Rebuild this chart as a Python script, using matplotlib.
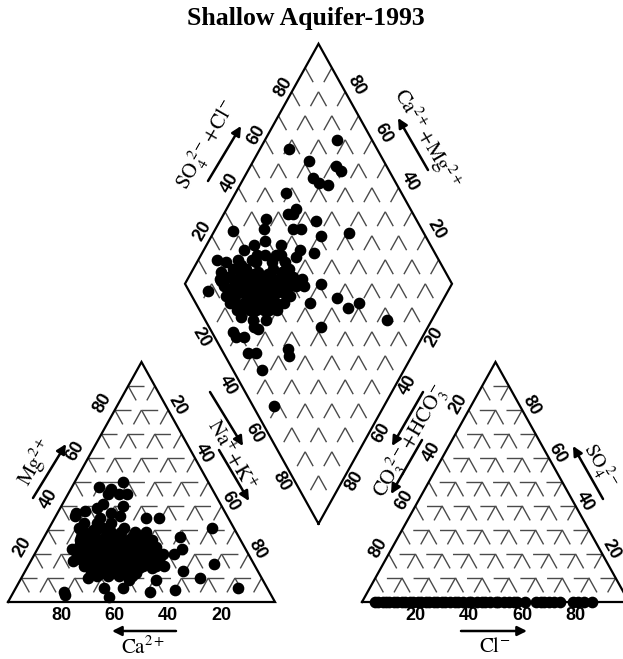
import matplotlib
matplotlib.use('Agg')
import matplotlib.pyplot as plt
import numpy as np

plt.rcParams['lines.scale_dashes'] = False
plt.rcParams['mathtext.fontset'] = 'stix'

# ---------------- data (percent) ----------------
title = 'Shallow Aquifer-1993'
tick_values = [20, 40, 60, 80]

# cation triangle: Ca2+ and Mg2+ (Na+ + K+ = 100 - Ca - Mg)
cat_ca = [32, 33, 36, 42, 40, 44, 37, 57, 55, 48, 43, 40, 31, 26, 8, 53, 49, 22, 24, 28,
          67, 15, 28, 23, 40, 11, 45, 35, 77, 61, 54, 61, 77, 56, 38,
          57, 53, 47, 43, 38, 34,
          60, 56, 52, 47, 42, 38, 33,
          62, 58, 55, 51, 47, 42, 37, 33,
          62, 58, 54, 50, 46, 41, 37, 32,
          62, 58, 54, 50, 45, 40, 35,
          62, 58, 54, 49, 44, 39,
          61, 57, 53, 48,
          65, 34, 50, 65,
          59, 55, 50, 45, 40, 36,
          61, 57, 53, 49, 44, 40, 35,
          64, 60, 56, 52, 48, 43, 39, 34,
          64, 60, 56, 52, 48, 43, 38,
          64, 60, 56, 51, 47, 42, 37,
          63, 59, 55, 51, 46,
          50, 45, 58, 41, 47, 52]
cat_mg = [50, 45, 45, 48, 45, 41, 40, 36, 33, 35, 37, 36, 35, 35, 31, 30, 31, 27, 22, 20,
          17, 16, 13, 10, 9, 6, 4, 5, 3, 6, 6, 2, 4, 37, 47,
          29, 29, 29, 29, 29, 29,
          26, 26, 26, 26, 26, 26, 26,
          23, 23, 23, 23, 23, 23, 23, 23,
          20, 20, 20, 20, 20, 20, 20, 20,
          17, 17, 17, 17, 17, 17, 17,
          14, 14, 14, 14, 14, 14,
          11, 11, 11, 11,
          22, 15, 9, 10,
          27, 27, 27, 27, 27, 27,
          24, 24, 24, 24, 24, 24, 24,
          21, 21, 21, 21, 21, 21, 21, 21,
          18, 18, 18, 18, 18, 18, 18,
          15, 15, 15, 15, 15, 15, 15,
          12, 12, 12, 12, 12,
          33, 33, 31, 31, 39, 38]

# anion triangle: Cl- and SO4 2- (CO3 2- + HCO3- = 100 - Cl - SO4)
an_cl = [5, 6, 8, 9, 10, 12, 13, 15, 16, 18, 19, 21, 22, 24, 25, 27, 28, 30, 31, 33, 35,
         36, 38, 40, 41, 43, 45, 46, 48, 50, 51, 53, 55, 57, 58, 61, 65, 67, 68, 70, 72,
         74, 79, 81, 83, 86]
an_so4 = [0] * len(an_cl)

# diamond: Ca2+ + Mg2+ and SO4 2- + Cl-
dm_cm = [73, 89, 79, 68, 65, 74, 71, 67, 81, 83, 82, 76, 74, 74, 64, 93, 71, 68, 59, 49,
         79, 85, 79, 72, 72, 64, 58, 64, 93, 85, 90, 49, 40, 34, 31, 17, 40, 72, 70, 67,
         65, 63, 62, 59, 48, 46, 53, 41, 49, 55, 57,
         89, 83, 78, 72, 67,
         89, 85, 80, 75, 70, 64,
         88, 85, 80, 76, 71, 66, 61,
         85, 81, 76, 72, 67, 62, 58,
         82, 78, 73, 69, 64, 58,
         79, 74, 69, 65, 59,
         75, 70, 65, 60,
         72, 67, 62,
         86, 81, 76, 71, 66,
         87, 83, 78, 73, 68, 63,
         83, 79, 74, 69, 64, 60,
         80, 76, 71, 66, 61,
         77, 72, 67, 62,
         73, 68, 63,
         80, 76, 70, 82]
dm_sc = [87, 67, 72, 81, 82, 70, 71, 74, 57, 44, 41, 53, 55, 57, 62, 29, 52, 55, 61, 72,
         39, 29, 33, 44, 40, 50, 55, 47, 17, 25, 7, 51, 54, 56, 61, 68, 42, 8, 8, 11,
         17, 18, 9, 12, 25, 24, 11, 8, 43, 44, 45,
         20, 25, 31, 37, 42,
         16, 21, 26, 30, 36, 42,
         14, 18, 22, 27, 31, 36, 42,
         14, 18, 23, 27, 32, 37, 41,
         13, 18, 22, 27, 32, 37,
         13, 18, 23, 28, 33,
         14, 19, 24, 29,
         14, 18, 23,
         17, 23, 28, 33, 39,
         14, 19, 24, 29, 34, 39,
         15, 20, 25, 30, 34, 39,
         15, 20, 25, 30, 35,
         15, 21, 26, 30,
         16, 21, 26,
         30, 36, 42, 34]

# ---------------- figure ----------------
W, H = 623, 659
fig = plt.figure(figsize=(W / 100, H / 100), dpi=100)
ax = fig.add_axes([0, 0, 1, 1])
ax.set_xlim(0, W)
ax.set_ylim(H, 0)
ax.axis('off')

S = 267.0      # triangle side (horizontal extent, px)
TH = 240.0     # triangle height (px)
LX, RX, BY = 8.0, 362.0, 602.0
half_gap = (RX - (LX + S)) / 2
DBX = LX + S + half_gap
DBY = BY - TH * half_gap / (S / 2)


def lt(ca, mg):
    ca = np.asarray(ca, float); mg = np.asarray(mg, float)
    na = 100 - ca - mg
    return LX + S * (na + mg / 2) / 100, BY - TH * mg / 100


def rt(cl, so4):
    cl = np.asarray(cl, float); so4 = np.asarray(so4, float)
    return RX + S * (cl + so4 / 2) / 100, BY - TH * so4 / 100


def dm(cm, sc):
    cm = np.asarray(cm, float); sc = np.asarray(sc, float)
    return DBX + (S / 2) * (sc - cm) / 100, DBY - TH * (cm + sc) / 100


GRID_C = '#4a4a4a'


def draw_grid_line(p0, p1, cell_px):
    cell_pt = cell_px * 0.72
    ax.plot([p0[0], p1[0]], [p0[1], p1[1]], color=GRID_C, lw=1.0,
            linestyle=(0, (cell_pt * 0.6, cell_pt * 0.4)), zorder=1)


cell_h = S / 10
cell_o = np.hypot(S / 20, TH / 10)

for k in range(10, 100, 10):
    # left triangle
    draw_grid_line(lt(100 - k, k), lt(0, k), cell_h)
    draw_grid_line(lt(k, 100 - k), lt(k, 0), cell_o)
    draw_grid_line(lt(0, 100 - k), lt(100 - k, 0), cell_o)
    # right triangle
    draw_grid_line(rt(100 - k, k), rt(0, k), cell_h)
    draw_grid_line(rt(k, 100 - k), rt(k, 0), cell_o)
    draw_grid_line(rt(0, 100 - k), rt(100 - k, 0), cell_o)
    # diamond
    draw_grid_line(dm(k, 100), dm(k, 0), cell_o)
    draw_grid_line(dm(100, k), dm(0, k), cell_o)

# outlines
for pts in ([lt(100, 0), lt(0, 0), lt(0, 100), lt(100, 0)],
            [rt(0, 0), rt(100, 0), rt(0, 100), rt(0, 0)],
            [dm(0, 0), dm(100, 0), dm(100, 100), dm(0, 100), dm(0, 0)]):
    xs = [p[0] for p in pts]; ys = [p[1] for p in pts]
    ax.plot(xs, ys, color='black', lw=1.6, zorder=2, solid_joinstyle='miter')

# data points
MS = 7.4
x, y = lt(cat_ca, cat_mg)
ax.plot(x, y, 'o', ms=MS, color='black', zorder=3)
x, y = rt(an_cl, an_so4)
ax.plot(x, y, 'o', ms=MS, color='black', zorder=3, clip_on=False)
x, y = dm(dm_cm, dm_sc)
ax.plot(x, y, 'o', ms=MS, color='black', zorder=3)

# tick labels
TFONT = dict(family='Liberation Sans', fontweight='bold', fontsize=13, color='black',
             ha='center', va='center')
c60, s60 = 0.87, 0.49
for v in tick_values:
    # left triangle
    px, py = lt(v, 0); ax.text(px, py + 14, str(v), **TFONT)
    px, py = lt(100 - v, v); ax.text(px - 14 * c60, py - 14 * s60, str(v), rotation=60, **TFONT)
    px, py = lt(0, 100 - v); ax.text(px + 10 * c60, py - 10 * s60, str(v), rotation=-60, **TFONT)
    # right triangle
    px, py = rt(v, 0); ax.text(px, py + 14, str(v), **TFONT)
    px, py = rt(0, 100 - v); ax.text(px - 12 * c60, py - 12 * s60, str(v), rotation=60, **TFONT)
    px, py = rt(100 - v, v); ax.text(px + 10 * c60, py - 10 * s60, str(v), rotation=-60, **TFONT)
    # diamond
    px, py = dm(100, v); ax.text(px - 10 * c60, py - 10 * s60, str(v), rotation=60, **TFONT)
    px, py = dm(v, 100); ax.text(px + 13 * c60, py - 13 * s60, str(v), rotation=-60, **TFONT)
    px, py = dm(100 - v, 0); ax.text(px - 12 * c60, py + 12 * s60, str(v), rotation=-60, **TFONT)
    px, py = dm(0, 100 - v); ax.text(px + 11 * c60, py + 11 * s60, str(v), rotation=60, **TFONT)

# axis titles and arrows
LFONT = dict(fontsize=15, color='black', ha='center', va='center')


def arrow(tail, head):
    ax.annotate('', xy=head, xytext=tail,
                arrowprops=dict(arrowstyle='-|>', color='black', lw=1.8,
                                mutation_scale=14, shrinkA=0, shrinkB=0))


ax.text(143, 647, r'$\mathrm{Ca^{2+}}$', **LFONT)
arrow((176, 631), (112, 631))
ax.text(36, 462, r'$\mathrm{Mg^{2+}}$', rotation=60, **LFONT)
arrow((33, 498), (66, 444))
ax.text(232, 455, r'$\mathrm{Na^{+}\!+\!K^{+}}$', rotation=-60, **LFONT)
arrow((210, 392), (243, 446))
arrow((219, 450), (249, 501))
ax.text(495, 646, r'$\mathrm{Cl^{-}}$', **LFONT)
arrow((461, 631), (527, 631))
ax.text(600, 466, r'$\mathrm{SO_4^{\ 2-}}$', rotation=-60, fontsize=14, color='black',
        ha='center', va='center')
arrow((603, 499), (573, 446))
ax.text(410, 441, r'$\mathrm{CO_3^{\ 2-}\!+\!HCO_3^{-}}$', rotation=60, **LFONT)
arrow((423, 392), (392, 446))
arrow((422, 440), (391, 494))
ax.text(207, 145, r'$\mathrm{SO_4^{\ 2-}\!+\!Cl^{-}}$', rotation=60, **LFONT)
arrow((208, 181), (241, 126))
ax.text(427, 138, r'$\mathrm{Ca^{2+}\!+\!Mg^{2+}}$', rotation=-60, **LFONT)
arrow((428, 170), (398, 118))

ax.text(306, 19, title, family='Liberation Serif', fontweight='bold', fontsize=18.5,
        ha='center', va='center')

fig.savefig('out.png', dpi=100, facecolor='white')
